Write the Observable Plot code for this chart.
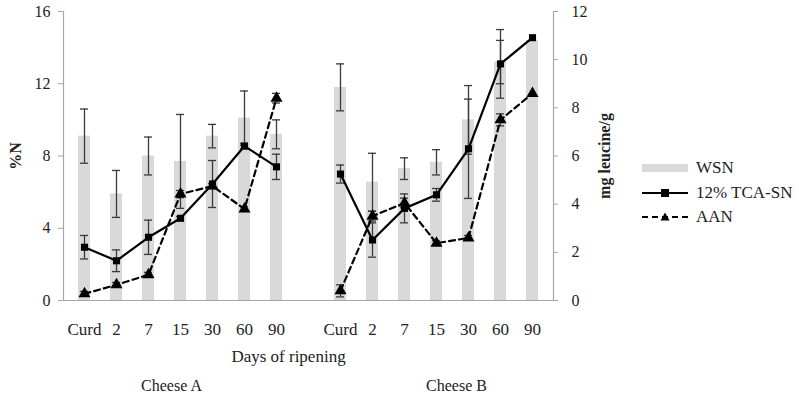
<!DOCTYPE html>
<html>
<head>
<meta charset="utf-8">
<script src="https://cdn.jsdelivr.net/npm/d3@7"></script>
<script src="https://cdn.jsdelivr.net/npm/@observablehq/plot@0.6"></script>
<style>
  html, body { margin: 0; padding: 0; background: #fff; }
  #wrap { position: relative; width: 799px; height: 405px; font-family: "Liberation Serif", "Times New Roman", "DejaVu Serif", serif; }
  #wrap svg { overflow: visible; }
  #wrap svg text { font-family: "Liberation Serif", "Times New Roman", "DejaVu Serif", serif; }
  g[aria-label="y-axis label"] text { font-weight: bold; font-size: 16px; }
  #legend { position: absolute; left: 642px; top: 156px; font-family: "Liberation Serif", "Times New Roman", serif; font-size: 17px; color: #222; }
  #legend .row { display: flex; align-items: center; height: 24.5px; }
  #legend svg { margin-right: 8px; }
</style>
</head>
<body>
<div id="wrap"></div>
<script>
// ---- data ----
const days = ["Curd", "2", "7", "15", "30", "60", "90"];
const cheeses = ["Cheese A", "Cheese B"];
const seriesNames = ["WSN", "12% TCA-SN", "AAN"];

// WSN (%N, left axis)
const wsnA = [9.1, 5.9, 8.0, 7.7, 9.1, 10.1, 9.2];
const wsnAErr = [1.5, 1.3, 1.05, 2.6, 0.65, 1.5, 0.8];
const wsnB = [11.8, 6.55, 7.3, 7.65, 10.0, 13.2, 14.4];
const wsnBErr = [1.3, 1.6, 0.6, 0.7, 1.9, 1.2, 0];

// 12% TCA-SN (%N, left axis)
const tcaA = [2.95, 2.2, 3.5, 4.55, 6.45, 8.55, 7.4];
const tcaAErr = [0.65, 0.6, 0.95, 0.1, 1.3, 0.15, 0.7];
const tcaB = [7.0, 3.35, 5.1, 5.85, 8.4, 13.1, 14.55];
const tcaBErr = [0.5, 0.95, 0.8, 0.35, 2.75, 1.9, 0];

// AAN (mg leucine/g, right axis)
const aanA = [0.28, 0.65, 1.07, 4.42, 4.75, 3.8, 8.4];
const aanAErr = [0.1, 0.1, 0.1, 0.15, 0.1, 0.1, 0.2];
const aanB = [0.4, 3.5, 4.05, 2.38, 2.6, 7.5, 8.6];
const aanBErr = [0.25, 0.2, 0.2, 0.1, 0.1, 0.25, 0];

const leftTicks = [0, 4, 8, 12, 16];
const rightTicks = [0, 2, 4, 6, 8, 10, 12];
const rightMax = 12, leftMax = 16;
const toLeft = v => v * leftMax / rightMax;

// ---- table ----
const keys = [...days.map(d => "A-" + d), "gap", ...days.map(d => "B-" + d)];
const rows = [];
days.forEach((d, i) => {
  rows.push({cheese: "A", key: "A-" + d, wsn: wsnA[i], wsnE: wsnAErr[i], tca: tcaA[i], tcaE: tcaAErr[i], aan: aanA[i], aanE: aanAErr[i]});
});
days.forEach((d, i) => {
  rows.push({cheese: "B", key: "B-" + d, wsn: wsnB[i], wsnE: wsnBErr[i], tca: tcaB[i], tcaE: tcaBErr[i], aan: aanB[i], aanE: aanBErr[i]});
});

const errColor = "#3a3a3a";
const capInset = 12;

function errorMarks(valueFn, errFn) {
  const data = rows.filter(d => errFn(d) > 0);
  return [
    Plot.ruleX(data, {x: "key", y1: d => valueFn(d) - errFn(d), y2: d => valueFn(d) + errFn(d), stroke: errColor, strokeWidth: 1.3}),
    Plot.tickY(data, {x: "key", y: d => valueFn(d) + errFn(d), stroke: errColor, strokeWidth: 1.3, insetLeft: capInset, insetRight: capInset}),
    Plot.tickY(data, {x: "key", y: d => valueFn(d) - errFn(d), stroke: errColor, strokeWidth: 1.3, insetLeft: capInset, insetRight: capInset})
  ];
}

const serif = "'Liberation Serif', 'Times New Roman', 'DejaVu Serif', serif";

const chart = Plot.plot({
  width: 799,
  height: 405,
  marginLeft: 63,
  marginRight: 246,
  marginTop: 11,
  marginBottom: 105,
  style: {fontFamily: serif, fontSize: "16px", color: "#222", background: "#fff"},
  x: {type: "band", domain: keys, padding: 0, axis: null},
  y: {domain: [0, leftMax], axis: null},
  marks: [
    Plot.barY(rows, {x: "key", y: "wsn", fill: "#d9d9d9", insetLeft: 10, insetRight: 10}),
    ...errorMarks(d => d.wsn, d => d.wsnE),
    ...errorMarks(d => d.tca, d => d.tcaE),
    ...errorMarks(d => toLeft(d.aan), d => toLeft(d.aanE)),
    Plot.ruleY([0], {stroke: "#a6a6a6", strokeWidth: 1.2}),
    Plot.frame({anchor: "left", stroke: "#a6a6a6", strokeWidth: 1.2}),
    Plot.frame({anchor: "right", stroke: "#a6a6a6", strokeWidth: 1.2}),
    Plot.line(rows, {x: "key", y: "tca", z: "cheese", stroke: "#000", strokeWidth: 2.2}),
    Plot.line(rows, {x: "key", y: d => toLeft(d.aan), z: "cheese", stroke: "#000", strokeWidth: 2.2, strokeDasharray: "6,4"}),
    Plot.dot(rows, {x: "key", y: "tca", symbol: "square", r: 4, fill: "#000"}),
    Plot.dot(rows, {x: "key", y: d => toLeft(d.aan), symbol: "triangle", r: 4.5, fill: "#000"}),
    Plot.axisX({tickSize: 0, tickPadding: 22, tickFormat: k => k === "gap" ? "" : k.slice(2), label: null, fontSize: 17, fontFamily: serif}),
    Plot.axisY(leftTicks, {anchor: "left", tickSize: 5, tickPadding: 8, stroke: "#a6a6a6", fontSize: 16, fontFamily: serif, label: "%N", labelAnchor: "center", labelOffset: 54, labelArrow: "none"}),
    Plot.axisY(rightTicks.map(toLeft), {anchor: "right", tickSize: 4, tickPadding: 14, stroke: "#a6a6a6", fontSize: 16, fontFamily: serif, tickFormat: d => String(Math.round(d * rightMax / leftMax)), label: "mg leucine/g", labelAnchor: "center", labelOffset: 56, labelArrow: "none"}),
    Plot.text(["Days of ripening"], {frameAnchor: "bottom", dy: 61, dx: -20, fontSize: 17, fontFamily: serif, fill: "#222"}),
    Plot.text([{k: "A-15", t: cheeses[0]}], {x: "k", text: "t", frameAnchor: "bottom", dy: 90, dx: -9, fontSize: 16, fontFamily: serif, fill: "#222", letterSpacing: "-0.4px"}),
    Plot.text([{k: "B-15", t: cheeses[1]}], {x: "k", text: "t", frameAnchor: "bottom", dy: 90, dx: 20, fontSize: 16, fontFamily: serif, fill: "#222", letterSpacing: "-0.4px"})
  ]
});

const wrap = document.getElementById("wrap");
wrap.appendChild(chart);

// ---- legend ----
const legend = document.createElement("div");
legend.id = "legend";
const swatches = [
  `<svg width="46" height="12"><rect x="0" y="2" width="46" height="8" fill="#d9d9d9"/></svg>`,
  `<svg width="46" height="12"><line x1="0" x2="46" y1="6" y2="6" stroke="#000" stroke-width="2.2"/><rect x="19" y="2" width="8" height="8" fill="#000"/></svg>`,
  `<svg width="46" height="12"><line x1="0" x2="46" y1="6" y2="6" stroke="#000" stroke-width="2.2" stroke-dasharray="6,4"/><path d="M23,1.5 L27.5,9.5 L18.5,9.5 Z" fill="#000"/></svg>`
];
seriesNames.forEach((name, i) => {
  const row = document.createElement("div");
  row.className = "row";
  row.innerHTML = swatches[i] + `<span>${name}</span>`;
  legend.appendChild(row);
});
wrap.appendChild(legend);
</script>
</body>
</html>
